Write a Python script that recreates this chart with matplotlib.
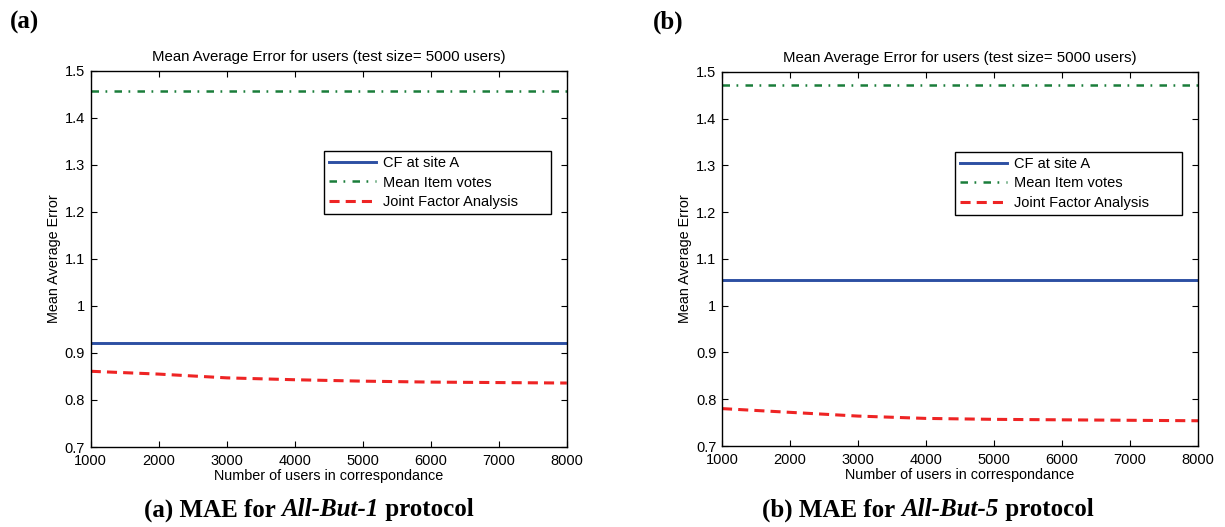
import matplotlib.pyplot as plt
import numpy as np
from matplotlib.ticker import FormatStrFormatter
from matplotlib.offsetbox import TextArea, HPacker, AnchoredOffsetbox

plt.rcParams['font.family'] = ['Liberation Sans', 'DejaVu Sans']

# ---------------- DADOS ----------------
users = [1000, 2000, 3000, 4000, 5000, 6000, 7000, 8000]

cf_a = [0.921] * 8
mean_item_a = [1.457] * 8
jfa_a = [0.861, 0.855, 0.847, 0.843, 0.840, 0.838, 0.837, 0.836]

cf_b = [1.055] * 8
mean_item_b = [1.472] * 8
jfa_b = [0.780, 0.772, 0.764, 0.759, 0.757, 0.756, 0.755, 0.754]

labels = ['CF at site A', 'Mean Item votes', 'Joint Factor Analysis']
titulo = 'Mean Average Error for users (test size= 5000 users)'
xlabel = 'Number of users in correspondance'
ylabel = 'Mean Average Error'
yticks = [0.7, 0.8, 0.9, 1.0, 1.1, 1.2, 1.3, 1.4, 1.5]

painel_letras = ['(a)', '(b)']
legendas = [('(a) MAE for ', 'All-But-1', ' protocol'),
            ('(b) MAE for ', 'All-But-5', ' protocol')]

AZUL = '#2c4fa3'
VERDE = '#1a7d3a'
VERMELHO = '#ee2424'

fig = plt.figure(figsize=(12.25, 5.27), dpi=100)

ax_a = fig.add_axes([0.0741, 0.1518, 0.3886, 0.7140])
ax_b = fig.add_axes([0.5894, 0.1537, 0.3886, 0.7097])


def desenhar(ax, cf, mi, jfa):
    ax.plot(users, cf, color=AZUL, lw=2.1, label=labels[0])
    ax.plot(users, mi, color=VERDE, lw=1.8, dashes=(3.0, 2.6, 0.7, 2.9),
            label=labels[1])
    ax.plot(users, jfa, color=VERMELHO, lw=2.2, dashes=(3.3, 2.0),
            label=labels[2])

    ax.set_xlim(1000, 8000)
    ax.set_ylim(0.7, 1.5)
    ax.set_xticks(users)
    ax.set_yticks(yticks)
    ax.yaxis.set_major_formatter(FormatStrFormatter('%g'))
    ax.tick_params(direction='in', top=True, right=True, length=4,
                   width=0.8, labelsize=10.5)
    ax.tick_params(axis='x', pad=5)
    ax.tick_params(axis='y', pad=4)
    for s in ax.spines.values():
        s.set_linewidth(1.0)

    ax.set_title(titulo, fontsize=10.8, pad=7)
    ax.set_xlabel(xlabel, fontsize=10.4, labelpad=1)
    ax.set_ylabel(ylabel, fontsize=10.4, labelpad=3)

    leg = ax.legend(loc='upper left', bbox_to_anchor=(0.490, 0.5, 0.476, 0.286),
                    mode='expand', fontsize=10.5, handlelength=3.2,
                    handletextpad=0.5, labelspacing=0.36, borderpad=0.35,
                    borderaxespad=0, fancybox=False, framealpha=1)
    leg.get_frame().set_edgecolor('black')
    leg.get_frame().set_linewidth(1.0)


desenhar(ax_a, cf_a, mean_item_a, jfa_a)
desenhar(ax_b, cf_b, mean_item_b, jfa_b)

# letras dos paineis
fig.text(10 / 1225, 1 - 22 / 527, painel_letras[0], family='Liberation Serif',
         fontweight='bold', fontsize=18, va='center', ha='left')
fig.text(653 / 1225, 1 - 22 / 527, painel_letras[1], family='Liberation Serif',
         fontweight='bold', fontsize=18, va='center', ha='left')

# legendas de baixo (negrito + negrito italico)
for (p1, p2, p3), xc in zip(legendas, [309 / 1225, 928 / 1225]):
    props = dict(family='Liberation Serif', fontweight='bold', fontsize=18)
    partes = [TextArea(p1, textprops=props),
              TextArea(p2, textprops=dict(props, fontstyle='italic')),
              TextArea(p3, textprops=props)]
    caixa = HPacker(children=partes, align='baseline', pad=0, sep=0)
    anc = AnchoredOffsetbox(loc='center', child=caixa, frameon=False,
                            bbox_to_anchor=(xc, 1 - 510 / 527),
                            bbox_transform=fig.transFigure, borderpad=0)
    fig.add_artist(anc)

fig.savefig('out.png', dpi=100)
